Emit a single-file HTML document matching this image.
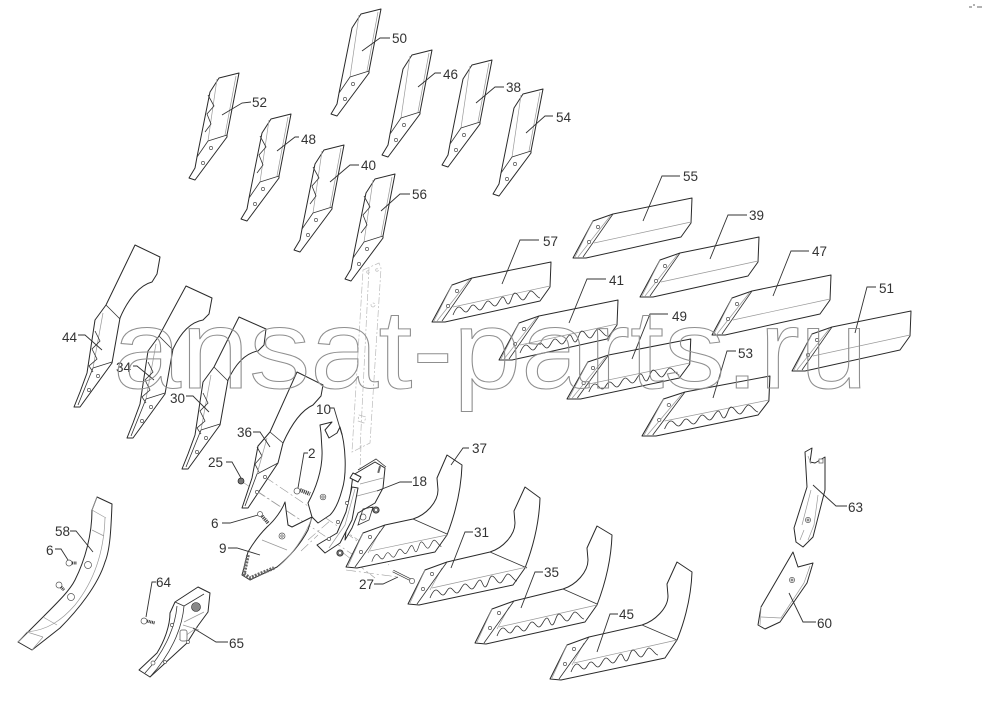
<!DOCTYPE html>
<html><head><meta charset="utf-8"><style>
html,body{margin:0;padding:0;background:#fff;width:985px;height:711px;overflow:hidden}
svg{display:block;filter:blur(.3px)}
text{font-family:"Liberation Sans",sans-serif}
.p{fill:#fff;stroke:#2a2a2a;stroke-width:1;stroke-linejoin:round}
.n{fill:none;stroke:#333;stroke-width:.8}
.t{fill:none;stroke:#999;stroke-width:.7}
.l{fill:none;stroke:#333;stroke-width:.9}
.h{fill:#fff;stroke:#555;stroke-width:.7}
.d{fill:none;stroke:#999;stroke-width:.6;stroke-dasharray:10 3 2 3}
.f{fill:none;stroke:#bbb;stroke-width:.7;stroke-dasharray:7 2 2 2}
.lb text{font-size:13.5px;fill:#333}
</style></head><body>
<svg width="985" height="711" viewBox="0 0 985 711" xmlns="http://www.w3.org/2000/svg">
<defs>
<g id="v">
<path class="p" d="M331,114 L337,116 L369,73 L369,71 L381,9 L361,14 L352,28 L339,93 L337,104Z"/>
<path class="t" d="M359,15 L350,77 M378,12 L367,71"/>
<path class="n" d="M350,77 L369,71 M350,77 L339,93"/>
<circle class="h" cx="353" cy="84" r="1.6"/><circle class="h" cx="345" cy="99" r="1.6"/>
</g>
<path id="z" class="n" d="M350,31 L356,42 L349,50 L353,60 L347,68"/>
<g id="h">
<path class="p" d="M0,0 L20,-37 L40,-44 L119,-60 L118,-35 L108,-21 L13,0Z"/>
<path class="t" d="M21,-15 L118,-36 M38,-43 L5,-1 M20,-37 L2,-1"/>
<path class="n" d="M40,-44 L10,-1"/>
<circle class="h" cx="25" cy="-31" r="1.6"/><circle class="h" cx="16" cy="-16" r="1.6"/>
</g>
<path id="w" class="n" d="M21,-7 C23,-12 25,-15 27,-15 C30,-15 31,-10 34,-10 C37,-10 38,-17 41,-17 C44,-17 45,-12 48,-12 C51,-12 53,-21 56,-21 C59,-21 60,-16 63,-16 C66,-16 68,-25 71,-25 C73,-25 74,-18 76,-18 C79,-18 80,-29 83,-29 C86,-29 88,-22 91,-22 C94,-22 96,-31 99,-31 C102,-31 105,-24 108,-24"/>
<g id="bigd">
<path class="n" d="M19,-39 L38,-45 M19,-39 L4,-2"/>
<circle class="h" cx="24" cy="-31" r="1.6"/><circle class="h" cx="15" cy="-17" r="1.6"/>
<path class="n" d="M21,-76 L26,-66 L18,-58 L23,-48 L15,-41 L19,-35"/>
</g>
<g id="toeb">
<path class="t" d="M17,-34 L2,-1 M22,-14 L34,-36"/>
<path class="n" d="M39,-42 L9,0"/>
<circle class="h" cx="24" cy="-30" r="1.6"/><circle class="h" cx="15" cy="-15" r="1.6"/>
</g>
</defs>

<!-- faint column -->
<g class="f">
<path d="M363,270 L379,263 L381,268 L370,443 L352,452 Z M369,268 L360,450"/>
<circle cx="373" cy="305" r="2"/><circle cx="368" cy="272" r="1.3"/><circle cx="377" cy="270" r="1.3"/>
<path d="M359,415 L366,417 L364,423 L358,421Z M361,445 L360,470"/>
</g>

<!-- dash lines -->
<path class="d" d="M241,481 L308,525 M265,477 L376,552 M257,491 L355,556 M301,551 L318,535 M308,540 L331,520 M345,532 L389,565 M342,552 L375,578 M346,570 L398,577"/>

<!-- V blades -->
<use href="#v"/>
<use href="#v" x="51" y="41"/>
<use href="#v" x="111" y="51"/>
<use href="#v" x="162" y="80"/>
<use href="#v" x="-142" y="64"/><use href="#z" x="-142" y="64"/>
<use href="#v" x="-90" y="105"/><use href="#z" x="-90" y="105"/>
<use href="#v" x="-37" y="136"/><use href="#z" x="-37" y="136"/>
<use href="#v" x="14" y="165"/><use href="#z" x="14" y="165"/>

<!-- H blades -->
<use href="#h" transform="translate(573,258)"/>
<use href="#h" transform="translate(640,297)"/>
<use href="#h" transform="translate(712,335)"/>
<use href="#h" transform="translate(792,371)"/>
<g transform="translate(432,322)"><use href="#h"/><use href="#w"/></g>
<g transform="translate(499,360)"><use href="#h"/><use href="#w"/></g>
<g transform="translate(567,399) scale(1.04,1)"><use href="#h"/><use href="#w"/></g>
<g transform="translate(642,436) scale(1.075,1)"><use href="#h"/><use href="#w"/></g>

<!-- big blades -->
<g transform="translate(74,407)">
<path class="p" d="M0,0 L6,0 L38,-44 L46,-89 C54,-108 66,-122 78,-125 L83,-133 L86,-150 L61,-162 L32,-102 L21,-87 L13,-34 L6,-15Z"/>
<path class="n" d="M32,-102 L46,-88"/><path class="t" d="M29,-94 L19,-39"/><use href="#bigd"/></g>
<g transform="translate(127,438)">
<path class="p" d="M0,0 L6,0 L38,-44 L46,-89 C54,-106 64,-116 76,-118 L82,-124 L85,-140 L59,-152 L32,-102 L21,-87 L13,-34 L6,-15Z"/>
<path class="n" d="M32,-102 L46,-88"/><path class="t" d="M29,-94 L19,-39"/><use href="#bigd"/></g>
<g transform="translate(182,469)">
<path class="p" d="M0,0 L6,0 L38,-44 L46,-89 C54,-106 64,-116 76,-118 L82,-124 L84,-140 L57,-152 L32,-102 L21,-87 L13,-34 L6,-15Z"/>
<path class="n" d="M32,-102 L46,-88"/><path class="t" d="M29,-94 L19,-39"/><use href="#bigd"/></g>
<g transform="translate(242,508)">
<path class="p" d="M0,0 L6,0 L36,-45 L41,-65 C50,-85 60,-98 71,-103 L79,-112 L81,-123 L55,-136 L28,-76 L16,-62 L10,-30 L4,-12Z"/>
<path class="n" d="M28,-76 L41,-65 M15,-34 L36,-45 M15,-34 L3,-2 M15,-61 L20,-52 L13,-44 L17,-36"/>
<path class="t" d="M25,-70 L15,-34"/>
<circle class="h" cx="23" cy="-31" r="1.6"/><circle class="h" cx="15" cy="-16" r="1.6"/></g>

<!-- 10 -->
<path class="p" d="M321,433 L320,425 L332,422 L325,430 L329,438 L337,433 L340,427 C346,445 347,475 342,490 C338,505 333,512 330,515 L318,523 L312,517 L308,503 C315,490 323,470 322,450Z"/>
<circle class="h" cx="323" cy="497" r="2.8"/><circle class="h" cx="323" cy="497" r="1.2"/>
<!-- bolt 2 -->
<circle class="h" cx="297" cy="491" r="3"/><path d="M300,490 L310,494" stroke="#444" stroke-width="4" stroke-dasharray="1.2 .8" fill="none"/>
<!-- 25 nut -->
<circle cx="241" cy="481" r="3" fill="#777" stroke="#222" stroke-width=".7"/>
<!-- bolt 6 -->
<circle class="h" cx="260" cy="514" r="2.5"/><path d="M262,516 L268,523" stroke="#444" stroke-width="3.5" stroke-dasharray="1.2 .8" fill="none"/>

<!-- 9 -->
<path class="p" d="M285,502 L288,525 L292,527 L312,517 L308,530 C300,545 288,558 277,567 L250,580 L242,575 L248,552 C255,540 262,532 267,527 C275,520 282,510 285,502Z"/>
<path class="t" d="M262,540 L287,550 M312,518 C304,538 292,555 279,566"/>
<circle class="h" cx="282" cy="536" r="3"/><circle class="h" cx="282" cy="536" r="1.2"/>
<path d="M248,555 L244,574 L250,578 L274,568" fill="none" stroke="#666" stroke-width="3.6" stroke-dasharray="2 1.2"/>

<!-- 18 -->
<path class="p" d="M353,475 L375,462 L385,468 L383,488 L375,503 L358,513 L352,528 L345,540 L349,505 Z"/>
<path class="n" d="M358,470 L376,459 L386,467"/><path class="t" d="M360,484 L383,478 M357,496 L380,490"/>
<path class="p" d="M352,487 L358,488 L352,520 L340,543 L325,553 L317,545 L337,533 L346,512Z"/>
<path class="t" d="M355,489 L345,525 L329,548"/>
<path class="p" d="M353,473 L361,477 L358,482 L350,478Z"/>
<circle class="h" cx="347" cy="503" r="1.6"/><circle class="h" cx="329" cy="539" r="1.6"/><circle class="h" cx="338" cy="522" r="1.6"/>
<circle class="h" cx="363" cy="517" r="3"/><path class="n" d="M358,525 L363,509 L373,507 L369,520Z"/>
<rect x="378" y="466" width="2" height="7" fill="#666" transform="rotate(15 379 470)"/>
<circle cx="376" cy="510" r="3.2" fill="#777" stroke="#222" stroke-width=".7"/><circle cx="376" cy="510" r="1.2" fill="#fff"/>
<circle cx="340" cy="553" r="3.2" fill="#777" stroke="#222" stroke-width=".7"/><circle cx="340" cy="553" r="1.2" fill="#fff"/>

<!-- toe blades -->
<g transform="translate(346,567)">
<path class="p" d="M0,0 L17,-34 L39,-42 L67,-48 C80,-52 92,-65 92,-77 L91,-89 L101,-112 L116,-102 C115,-72 106,-45 101,-32 L89,-15 L11,1Z"/>
<path class="n" d="M67,-48 L101,-33"/><path class="t" d="M24,-16 L101,-32"/>
<use href="#toeb"/><use href="#w" transform="translate(9,1) scale(.8,.9)"/></g>
<g transform="translate(408,604)">
<path class="p" d="M0,0 L17,-34 L39,-42 L82,-52 C95,-56 107,-69 107,-81 L106,-93 L117,-117 L132,-106 C131,-76 122,-49 117,-36 L105,-19 L11,1Z"/>
<path class="n" d="M82,-52 L119,-36"/><path class="t" d="M24,-16 L119,-37"/>
<use href="#toeb"/><use href="#w" transform="translate(1,1)"/></g>
<g transform="translate(475,643)">
<path class="p" d="M0,0 L17,-34 L39,-42 L88,-54 C101,-58 113,-71 113,-83 L112,-95 L122,-117 L137,-108 C136,-78 127,-51 122,-38 L110,-21 L11,1Z"/>
<path class="n" d="M88,-54 L122,-39"/><path class="t" d="M24,-16 L122,-38"/>
<use href="#toeb"/><use href="#w" transform="translate(1,0)"/></g>
<g transform="translate(550,679)">
<path class="p" d="M0,0 L17,-34 L39,-42 L92,-54 C105,-58 118,-71 118,-83 L117,-95 L127,-117 L142,-107 C141,-77 132,-51 127,-39 L115,-21 L11,1Z"/>
<path class="n" d="M92,-54 L127,-39"/><path class="t" d="M24,-16 L127,-39"/>
<use href="#toeb"/><use href="#w"/></g>
<!-- bolt 27 -->
<path d="M393,571 L411,580" stroke="#333" stroke-width="2.4" fill="none"/><path d="M393,571 L411,580" stroke="#fff" stroke-width="1.2" fill="none"/><circle class="h" cx="412" cy="581" r="2.6"/>

<!-- 58 -->
<path class="p" d="M97,497 L112,504 C111,530 110,550 105,562 C98,585 78,610 60,628 L32,650 L18,642 L43,617 C60,600 70,590 75,580 C85,560 92,535 92,510Z"/>
<path class="t" d="M92,510 L106,518 M105,518 C104,550 95,580 75,605 C62,620 48,630 27,632 M92,530 L104,536 M43,617 L57,625 M27,632 L43,637 M43,637 L32,650 M92,510 L97,497 M18,642 L27,632"/>
<circle class="h" cx="88" cy="565" r="3.5"/><circle class="h" cx="71" cy="597" r="3.5"/>
<circle class="h" cx="69" cy="563" r="3"/><path d="M72,563 L77,563" stroke="#333" stroke-width="3" stroke-dasharray="1 .7"/>
<circle class="h" cx="59" cy="585" r="3"/><path d="M61,587 L64,590" stroke="#333" stroke-width="3" stroke-dasharray="1 .7"/>

<!-- 65 -->
<path class="p" d="M175,602 L198,587 L210,593 L208,612 L197,627 L187,643 L150,677 L139,670 L157,653 C165,640 170,625 170,613Z"/>
<path class="n" d="M175,602 L184,606 L204,594 M184,606 C182,630 170,655 150,677 M177,606 C175,630 162,655 145,673"/>
<path class="t" d="M184,622 L204,612 M183,625 L199,630 M179,640 L198,627"/>
<circle cx="196" cy="607" r="4.5" fill="#888" stroke="#222" stroke-width=".6"/>
<rect x="180" y="630" width="7" height="11" rx="2" class="h"/>
<circle class="h" cx="153" cy="663" r="2"/><circle class="h" cx="172" cy="625" r="1.6"/><circle class="h" cx="188" cy="642" r="1.5"/><circle class="h" cx="165" cy="662" r="1.5"/>
<circle class="h" cx="144" cy="621" r="3"/><path d="M147,621 L155,623" stroke="#333" stroke-width="3" stroke-dasharray="1 .7"/>

<!-- 63 -->
<path class="p" d="M807,487 L805,452 L812,448 L810,462 L815,463 L825,457 L825,490 L813,537 L803,547 L796,542 L794,528Z"/>
<path class="t" d="M808,456 L811,464 M811,490 L802,525 M818,495 L814,525 L808,540 M804,530 L800,540"/>
<circle class="h" cx="808" cy="520" r="2.6"/><circle class="h" cx="808" cy="520" r="1"/>
<rect x="819" y="459" width="4" height="4" class="h"/>
<!-- 60 -->
<path class="p" d="M793,552 L798,567 L813,563 L807,583 L780,622 L765,629 L758,625 L761,607Z"/>
<path class="t" d="M810,566 L804,583 L781,618 L761,617 M761,607 L760,625"/>
<circle class="h" cx="792" cy="580" r="2.6"/><circle class="h" cx="792" cy="580" r="1"/>

<!-- leaders -->
<g class="l">
<path d="M362,51 L380,38 H390"/><path d="M418,87 L435,73 H441"/><path d="M476,103 L495,87 H504"/><path d="M526,133 L545,116 H553"/>
<path d="M222,115 L242,103 L251,102"/><path d="M277,151 L295,137 H299"/><path d="M330,182 L350,165 H359"/><path d="M381,211 L400,194 H410"/>
<path d="M502,284 L520,240 H539"/><path d="M643,221 L662,176 H680"/><path d="M710,259 L728,215 H747"/><path d="M773,296 L791,251 H809"/>
<path d="M855,333 L867,287 H876"/><path d="M569,323 L587,279 H606"/><path d="M632,359 L650,314 H668"/><path d="M713,398 L727,351 H736"/>
<path d="M102,350 L85,335 H78"/><path d="M154,380 L137,366 H133"/><path d="M209,412 L193,396 H186"/><path d="M270,447 L260,432 H253"/>
<path d="M342,435 L334,408 H330"/><path d="M298,488 L304,453 H308"/><path d="M241,478 L232,462 H226"/><path d="M258,515 L230,523 H222"/>
<path d="M377,491 L400,482 H412"/><path d="M451,465 L463,448 H469"/><path d="M451,568 L465,532 H473"/><path d="M521,608 L535,572 H543"/>
<path d="M597,652 L610,614 H618"/><path d="M398,577 L383,584 H374"/><path d="M260,555 L237,548 H228"/><path d="M93,552 L76,531 H70"/>
<path d="M68,560 L61,549 H55"/><path d="M146,617 L152,582 H156"/><path d="M193,628 L216,642 H228"/><path d="M813,485 L836,506 H847"/><path d="M789,593 L803,622 H816"/>
</g>

<!-- labels -->
<g class="lb">
<text x="392" y="43">50</text><text x="443" y="79">46</text><text x="506" y="92">38</text><text x="556" y="122">54</text>
<text x="252" y="107">52</text><text x="301" y="144">48</text><text x="361" y="170">40</text><text x="412" y="199">56</text>
<text x="543" y="246">57</text><text x="683" y="181">55</text><text x="749" y="220">39</text><text x="812" y="256">47</text>
<text x="879" y="293">51</text><text x="609" y="285">41</text><text x="672" y="321">49</text><text x="738" y="358">53</text>
<text x="62" y="342">44</text><text x="116" y="372">34</text><text x="170" y="403">30</text><text x="237" y="437">36</text>
<text x="316" y="414">10</text><text x="308" y="458">2</text><text x="208" y="467">25</text><text x="412" y="486">18</text>
<text x="472" y="453">37</text><text x="474" y="537">31</text><text x="544" y="577">35</text><text x="619" y="619">45</text>
<text x="211" y="528">6</text><text x="219" y="553">9</text><text x="359" y="589">27</text><text x="55" y="536">58</text>
<text x="46" y="555">6</text><text x="156" y="587">64</text><text x="229" y="648">65</text><text x="848" y="512">63</text><text x="817" y="628">60</text>
</g>

<!-- watermark -->
<text x="113" y="388" font-size="112" textLength="755" lengthAdjust="spacingAndGlyphs" fill="none" stroke="#8f8f8f" stroke-width="1">ansat-parts.ru</text>

<!-- corner mark -->
<path d="M969,7 h3 M973,5 h2 M977,7 h5" stroke="#999" stroke-width="1.4" fill="none"/>
</svg>
</body></html>
